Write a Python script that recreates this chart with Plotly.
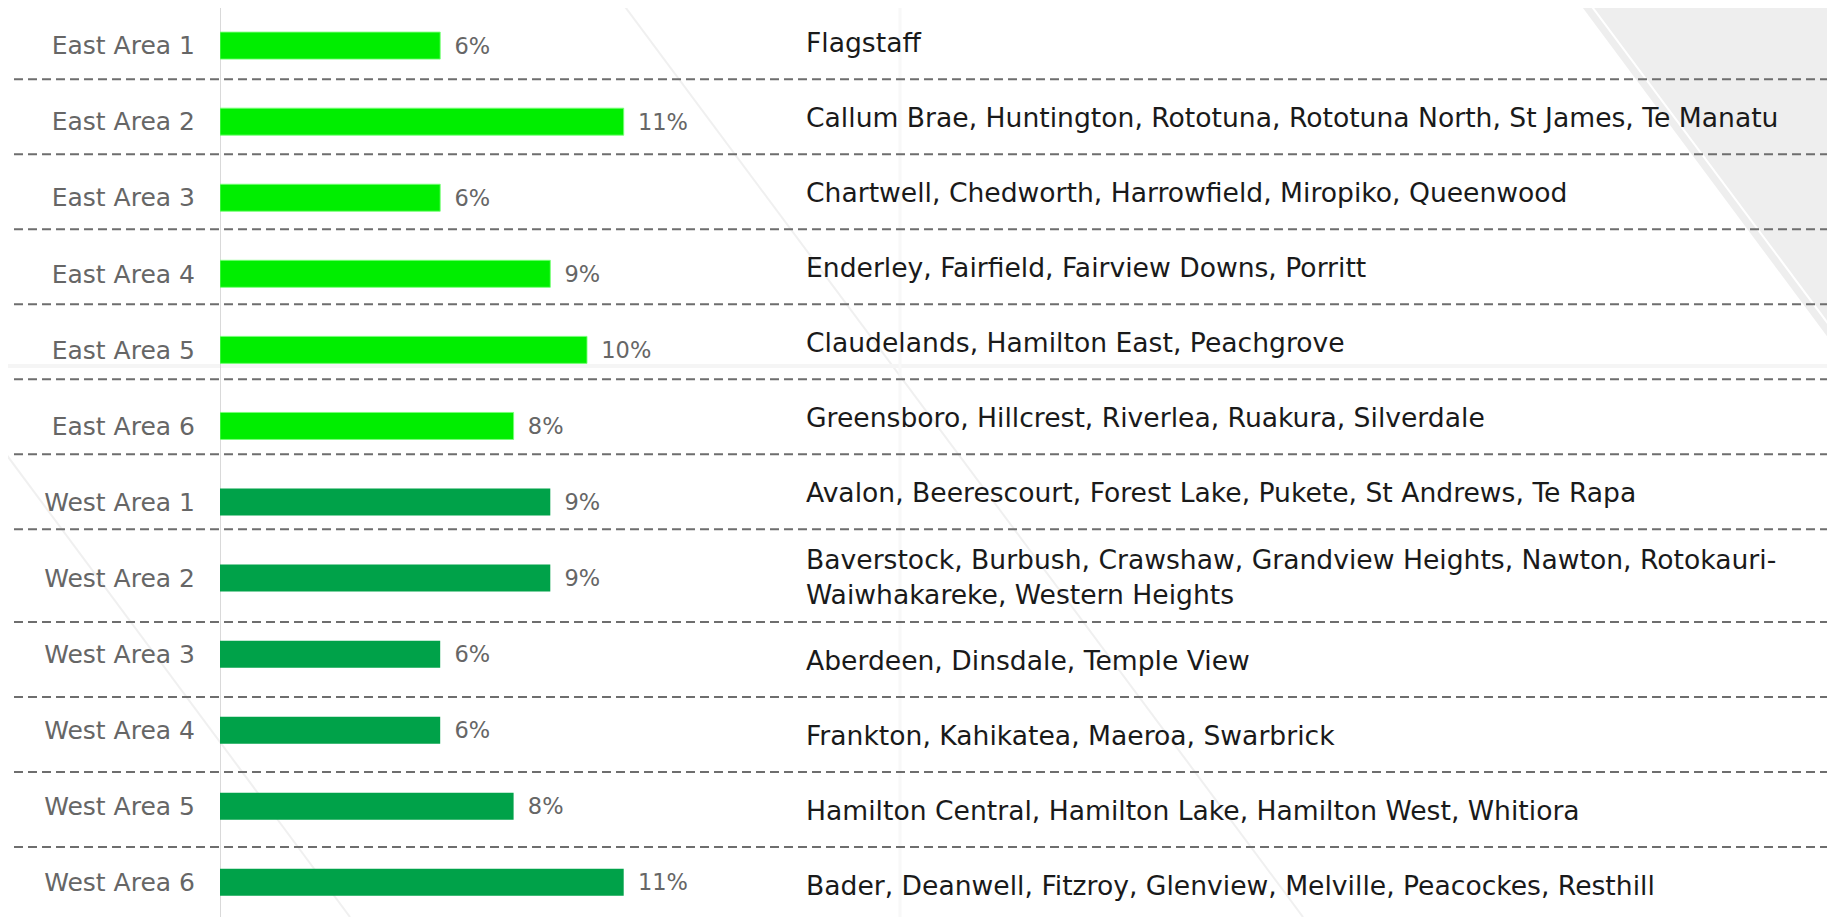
import plotly.graph_objects as go

# ---------------- data ----------------
areas = ["East Area 1", "East Area 2", "East Area 3", "East Area 4", "East Area 5", "East Area 6",
         "West Area 1", "West Area 2", "West Area 3", "West Area 4", "West Area 5", "West Area 6"]
shares = [6, 11, 6, 9, 10, 8, 9, 9, 6, 6, 8, 11]
groups = ["East", "East", "East", "East", "East", "East",
          "West", "West", "West", "West", "West", "West"]
suburbs = [
    "Flagstaff",
    "Callum Brae, Huntington, Rototuna, Rototuna North, St James, Te Manatu",
    "Chartwell, Chedworth, Harrowfield, Miropiko, Queenwood",
    "Enderley, Fairfield, Fairview Downs, Porritt",
    "Claudelands, Hamilton East, Peachgrove",
    "Greensboro, Hillcrest, Riverlea, Ruakura, Silverdale",
    "Avalon, Beerescourt, Forest Lake, Pukete, St Andrews, Te Rapa",
    "Baverstock, Burbush, Crawshaw, Grandview Heights, Nawton, Rotokauri-<br>Waiwhakareke, Western Heights",
    "Aberdeen, Dinsdale, Temple View",
    "Frankton, Kahikatea, Maeroa, Swarbrick",
    "Hamilton Central, Hamilton Lake, Hamilton West, Whitiora",
    "Bader, Deanwell, Fitzroy, Glenview, Melville, Peacockes, Resthill",
]
group_colors = {"East": "#00EE00", "West": "#00A249"}

# ---------------- layout constants (reference pixels) ----------------
REF_W, REF_H = 1835, 917
OFF = 8                       # page body margin
W, H = REF_W - OFF, REF_H - OFF
ML = 220 - OFF                # bar baseline inside figure
PX_PER_UNIT = 36.7            # pixels per percentage point
FIRST_CENTER = 45.6 - OFF     # figure px y of first bar centre
ROW_STEP = 76.07              # pixel spacing between bars

TEXT_X = 804
ROW_TOP = 4.3
ROW_H = 75.0
EXTRA_LINE = 17.7

def px_x(p):  # reference px -> paper x
    return (p - OFF - ML) / (W - ML)

def px_y(p):  # reference px -> paper y
    return 1 - (p - OFF) / H

y_top = -FIRST_CENTER / ROW_STEP
y_bot = (H - FIRST_CENTER) / ROW_STEP

LABEL_FONT = "DejaVu Sans"
TEXT_FONT = "DejaVu Sans"
LABEL_COLOR = "#666666"

fig = go.Figure()
fig.add_trace(go.Bar(
    y=areas, x=shares, orientation="h",
    marker=dict(color=[group_colors[g] for g in groups],
                line=dict(color=["rgba(120,255,120,0.9)" if g == "East" else "rgba(0,0,0,0)" for g in groups],
                          width=1)),
    width=0.355,
    text=[f"{v}%" for v in shares],
    texttemplate="\u2002%{text}",
    textposition="outside",
    constraintext="none",
    textfont=dict(family=LABEL_FONT, size=22.5, color=LABEL_COLOR),
    cliponaxis=False,
    hoverinfo="skip",
))

shapes = []
# background decoration
shapes.append(dict(type="path", xref="paper", yref="paper", layer="below",
                   path=f"M {px_x(1577)},{px_y(0)} L {px_x(1835)},{px_y(0)} L {px_x(1835)},{px_y(347)} Z",
                   fillcolor="#EEEEEE", line=dict(width=0)))
shapes.append(dict(type="line", xref="paper", yref="paper", layer="below",
                   x0=px_x(1587), y0=px_y(0), x1=px_x(1835), y1=px_y(333),
                   line=dict(color="#FFFFFF", width=2)))
shapes.append(dict(type="line", xref="paper", yref="paper", layer="below",
                   x0=px_x(620), y0=px_y(0), x1=px_x(1303), y1=px_y(917),
                   line=dict(color="#F0F0F0", width=2)))
shapes.append(dict(type="line", xref="paper", yref="paper", layer="below",
                   x0=px_x(0), y0=px_y(446), x1=px_x(350), y1=px_y(917),
                   line=dict(color="#F0F0F0", width=2)))
shapes.append(dict(type="line", xref="paper", yref="paper", layer="below",
                   x0=px_x(0), y0=px_y(366), x1=px_x(1835), y1=px_y(366),
                   line=dict(color="#F5F5F5", width=4)))
shapes.append(dict(type="line", xref="paper", yref="paper", layer="below",
                   x0=px_x(900), y0=px_y(0), x1=px_x(900), y1=px_y(917),
                   line=dict(color="#F8F8F8", width=3)))
# baseline axis line
shapes.append(dict(type="line", xref="x", yref="paper", layer="below",
                   x0=0, x1=0, y0=px_y(8), y1=px_y(917),
                   line=dict(color="#D9D9D9", width=2)))

annotations = []
top = ROW_TOP
for i, s in enumerate(suburbs):
    nlines = s.count("<br>") + 1
    h = ROW_H + EXTRA_LINE * (nlines - 1)
    annotations.append(dict(xref="paper", yref="paper", x=px_x(TEXT_X), y=px_y(top + h / 2 + 1),
                            xanchor="left", yanchor="middle", align="left", showarrow=False,
                            text=s, font=dict(family=TEXT_FONT, size=26.6, color="#1A1A1A")))
    top += h
    if i < len(suburbs) - 1:
        shapes.append(dict(type="line", xref="paper", yref="paper", layer="below",
                           x0=px_x(14), x1=px_x(1835), y0=px_y(top), y1=px_y(top),
                           line=dict(color="#6E6E6E", width=2, dash="9px,5px")))

fig.update_layout(
    width=W, height=H,
    margin=dict(l=ML, r=0, t=0, b=0, pad=0),
    paper_bgcolor="white", plot_bgcolor="rgba(0,0,0,0)",
    showlegend=False,
    xaxis=dict(range=[0, (W - ML) / PX_PER_UNIT], visible=False, fixedrange=True),
    yaxis=dict(type="category", categoryorder="array", categoryarray=areas,
               range=[y_bot, y_top], showgrid=False, zeroline=False, showline=False,
               ticks="outside", ticklen=19, tickcolor="rgba(0,0,0,0)",
               tickfont=dict(family=LABEL_FONT, size=25, color=LABEL_COLOR),
               fixedrange=True),
    shapes=shapes,
    annotations=annotations,
)

fig.write_html("out.html")
